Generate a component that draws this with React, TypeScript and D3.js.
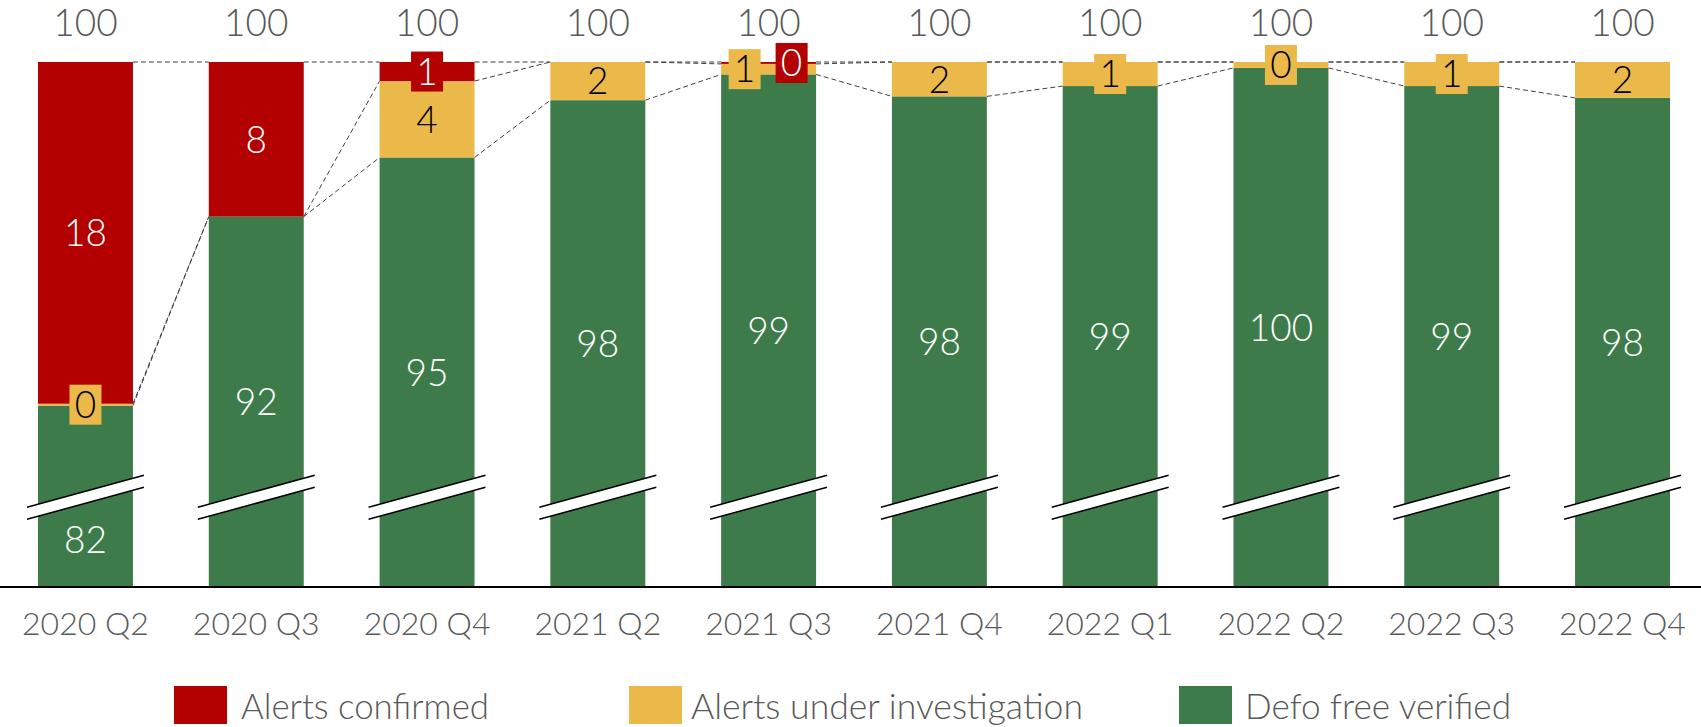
import React from "react";
import * as d3 from "d3";

// quarters on the x axis
const quarters = [
  "2020 Q2",
  "2020 Q3",
  "2020 Q4",
  "2021 Q2",
  "2021 Q3",
  "2021 Q4",
  "2022 Q1",
  "2022 Q2",
  "2022 Q3",
  "2022 Q4",
];

// shares in % (labels are rounded)
const defoFreeVerified = [82.0, 91.9, 95.0, 98.0, 99.35, 98.2, 98.74, 99.69, 98.74, 98.12];
const alertsUnderInvestigation = [0.1, 0, 4.0, 2.0, 0.55, 1.8, 1.26, 0.31, 1.26, 1.88];
const alertsConfirmed = [17.9, 8.1, 1.0, 0, 0.1, 0, 0, 0, 0, 0];

const seriesKeys = ["defo", "investigation", "confirmed"];
const legendKeys = ["confirmed", "investigation", "defo"];
const seriesNames: Record<string, string> = {
  confirmed: "Alerts confirmed",
  investigation: "Alerts under investigation",
  defo: "Defo free verified",
};

// the value axis is broken: it starts above zero
const axisFloor = 72.5;
const axisTop = 100;
const breakAt = 77.2;

const width = 1701;
const height = 727;
const plotTop = 62;
const plotBottom = 587;

const colors: Record<string, string> = {
  confirmed: "#B30000",
  investigation: "#EBB94A",
  defo: "#3D7C4A",
};
const labelColors: Record<string, string> = {
  confirmed: "#ffffff",
  investigation: "#000000",
  defo: "#ffffff",
};
const grey = "#595959";
const font = "'Century Gothic', Lato, sans-serif";

const App = () => {
  const rows = quarters.map((q, i) => ({
    quarter: q,
    defo: defoFreeVerified[i],
    investigation: alertsUnderInvestigation[i],
    confirmed: alertsConfirmed[i],
  }));

  const stackedData = d3.stack<any>().keys(seriesKeys)(rows);

  const xScale = d3
    .scaleBand()
    .domain(quarters)
    .range([38, 1670])
    .paddingInner(0.444)
    .paddingOuter(0);

  const yScale = d3
    .scaleLinear()
    .domain([axisFloor, axisTop])
    .range([plotBottom, plotTop])
    .clamp(true);

  const bw = xScale.bandwidth();
  const yBreak = yScale(breakAt);
  const fmt = (v: number) => String(Math.round(v));

  // series lines between neighbouring bars
  const seriesLines: any[] = [];
  stackedData.forEach((col) => {
    for (let i = 0; i < col.length - 1; i++) {
      seriesLines.push({
        key: col.key + i,
        x1: xScale(quarters[i])! + bw,
        y1: yScale(col[i][1]),
        x2: xScale(quarters[i + 1])!,
        y2: yScale(col[i + 1][1]),
      });
    }
  });

  // data labels
  const labels: any[] = [];
  stackedData.forEach((col) => {
    col.forEach((el, i) => {
      const v = el.data[col.key];
      if (!v) return;
      const y0 = yScale(el[0]);
      const y1 = yScale(el[1]);
      let cy = (y0 + y1) / 2;
      let dx = 0;
      if (col.key === "defo" && Math.abs(cy - yBreak) < 40) cy = yBreak + 42;
      const small = y0 - y1 < 30;
      if (col.key !== "defo" && small) {
        const r = alertsConfirmed[i];
        const inv = alertsUnderInvestigation[i];
        const bothSmall =
          r > 0 && inv > 0 && yScale(100 - r - inv) - yScale(100) < 30;
        if (bothSmall) dx = col.key === "confirmed" ? 23 : -24;
      }
      const text = fmt(v);
      labels.push({
        key: col.key + i,
        series: col.key,
        x: xScale(quarters[i])! + bw / 2 + dx,
        y: cy,
        text,
        boxed: col.key !== "defo" && small,
        boxW: 14 + 18 * text.length,
      });
    });
  });

  const legendItems = [
    { swatchX: 174, textX: 241, textW: 248 },
    { swatchX: 629, textX: 691, textW: 392 },
    { swatchX: 1179, textX: 1245, textW: 266 },
  ];

  return (
    <svg
      width={width}
      height={height}
      style={{ position: "absolute", left: 0, top: 0, background: "#fff" }}
      fontFamily={font}
      fontWeight={300}
    >
      {
        // series lines
        seriesLines.map((l) => (
          <line
            key={l.key}
            x1={l.x1}
            y1={l.y1}
            x2={l.x2}
            y2={l.y2}
            stroke="#404040"
            strokeWidth={1}
            strokeDasharray="5 3"
          />
        ))
      }
      {
        // bars
        stackedData.map((col) => (
          <g key={col.key} fill={colors[col.key]}>
            {col.map((el, i) =>
              el.data[col.key] ? (
                <rect
                  key={i}
                  x={xScale(quarters[i])}
                  y={yScale(el[1])}
                  width={bw}
                  height={yScale(el[0]) - yScale(el[1])}
                />
              ) : null
            )}
          </g>
        ))
      }
      {
        // axis break marks
        quarters.map((q) => {
          const xs = xScale(q)! - 11;
          const xe = xScale(q)! + bw + 11;
          const pts = [
            [xs, yBreak + 10],
            [xe, yBreak - 22],
            [xe, yBreak - 10],
            [xs, yBreak + 22],
          ];
          return (
            <g key={q}>
              <polygon points={pts.map((p) => p.join(",")).join(" ")} fill="#fff" />
              <line x1={xs} y1={yBreak + 10} x2={xe} y2={yBreak - 22} stroke="#000" strokeWidth={1.5} />
              <line x1={xs} y1={yBreak + 22} x2={xe} y2={yBreak - 10} stroke="#000" strokeWidth={1.5} />
            </g>
          );
        })
      }
      {
        // base line
        <line x1={0} x2={width} y1={plotBottom} y2={plotBottom} stroke="#000" strokeWidth={2} />
      }
      {
        // data labels
        labels.map((d) => (
          <g key={d.key}>
            {d.boxed ? (
              <rect
                x={d.x - d.boxW / 2}
                y={d.y - 20}
                width={d.boxW}
                height={40}
                fill={colors[d.series]}
              />
            ) : null}
            <text
              x={d.x}
              y={d.y}
              dy="0.36em"
              textAnchor="middle"
              fontSize={37}
              fill={labelColors[d.series]}
            >
              {d.text}
            </text>
          </g>
        ))
      }
      {
        // totals on top
        rows.map((r) => (
          <text
            key={r.quarter}
            x={xScale(r.quarter)! + bw / 2}
            y={36}
            textAnchor="middle"
            fontSize={37}
            fill={grey}
          >
            {fmt(r.defo + r.investigation + r.confirmed)}
          </text>
        ))
      }
      {
        // x axis labels
        quarters.map((q) => (
          <text
            key={q}
            x={xScale(q)! + bw / 2}
            y={635}
            textAnchor="middle"
            fontSize={32}
            fill={grey}
          >
            {q}
          </text>
        ))
      }
      {
        // legend
        legendKeys.map((k, i) => (
          <g key={k}>
            <rect x={legendItems[i].swatchX} y={686} width={53} height={38} fill={colors[k]} />
            <text
              x={legendItems[i].textX}
              y={719}
              fontSize={36}
              fill={grey}
              textLength={legendItems[i].textW}
              lengthAdjust="spacingAndGlyphs"
            >
              {seriesNames[k]}
            </text>
          </g>
        ))
      }
    </svg>
  );
};

export default App;
